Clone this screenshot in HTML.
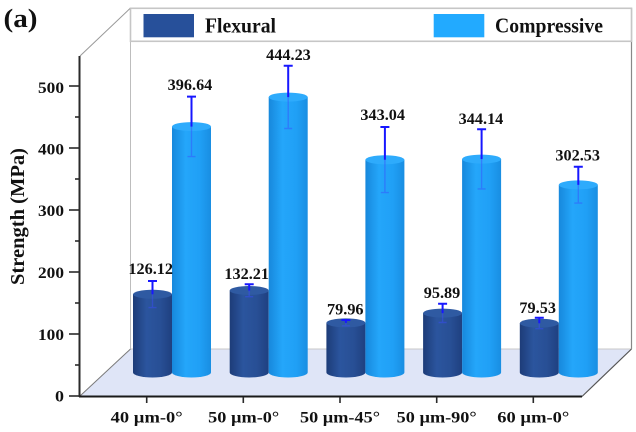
<!DOCTYPE html>
<html><head><meta charset="utf-8"><style>
html,body{margin:0;padding:0;background:#fff;}
svg{display:block;}
text{font-family:"Liberation Serif","Times New Roman",serif;font-weight:bold;fill:#111;}
</style></head><body>
<svg width="636" height="432" viewBox="0 0 636 432" xmlns="http://www.w3.org/2000/svg" font-family="'Liberation Serif', serif" font-weight="bold">
<defs>
<linearGradient id="gf" x1="0" x2="1" y1="0" y2="0">
<stop offset="0" stop-color="#1d3c78"/><stop offset="0.35" stop-color="#2b559e"/><stop offset="0.7" stop-color="#284f95"/><stop offset="1" stop-color="#1f4080"/>
</linearGradient>
<linearGradient id="gc" x1="0" x2="1" y1="0" y2="0">
<stop offset="0" stop-color="#1788dc"/><stop offset="0.35" stop-color="#24a6fa"/><stop offset="0.7" stop-color="#20a0f6"/><stop offset="1" stop-color="#198ee2"/>
</linearGradient>
</defs>
<!-- back wall -->
<rect x="130.5" y="8" width="501" height="341" fill="#fff"/>
<line x1="130.5" y1="8" x2="130.5" y2="349" stroke="#bdbdbd" stroke-width="1"/>
<line x1="631.5" y1="8" x2="631.5" y2="349" stroke="#888" stroke-width="1.2"/>
<!-- legend box -->
<rect x="130.5" y="8.3" width="501" height="33" fill="#fff" stroke="#c6c6c6" stroke-width="1.6"/>
<rect x="143.5" y="14" width="50.5" height="23.3" fill="#27509a"/>
<text x="205" y="32.3" font-size="21" textLength="71" lengthAdjust="spacingAndGlyphs">Flexural</text>
<rect x="433.7" y="14" width="50.6" height="23.3" fill="#22aaff"/>
<text x="495" y="32.3" font-size="21" textLength="108" lengthAdjust="spacingAndGlyphs">Compressive</text>
<!-- top-left diagonal -->
<line x1="80" y1="56" x2="130" y2="8.5" stroke="#999" stroke-width="1"/>
<!-- floor -->
<polygon points="80,396 130.5,349 631.5,349 582,396" fill="#dfe5f7"/>
<line x1="130.5" y1="349" x2="631.5" y2="349" stroke="#c8c8c8" stroke-width="1"/>
<line x1="80" y1="396" x2="130.5" y2="349" stroke="#7a7a7a" stroke-width="1"/>
<line x1="631.5" y1="349" x2="582" y2="396.5" stroke="#555" stroke-width="1.2"/>
<!-- axis -->
<line x1="79.5" y1="56" x2="79.5" y2="397" stroke="#2a2a2a" stroke-width="2"/>
<line x1="79" y1="396.5" x2="582" y2="396.5" stroke="#1a1a1a" stroke-width="2"/>
<g stroke="#2a2a2a" stroke-width="1.6">
<line x1="69" y1="396" x2="80" y2="396"/>
<line x1="69" y1="334" x2="80" y2="334"/>
<line x1="69" y1="272" x2="80" y2="272"/>
<line x1="69" y1="210" x2="80" y2="210"/>
<line x1="69" y1="148" x2="80" y2="148"/>
<line x1="69" y1="86" x2="80" y2="86"/>
<line x1="75" y1="365" x2="80" y2="365"/>
<line x1="75" y1="303" x2="80" y2="303"/>
<line x1="75" y1="241" x2="80" y2="241"/>
<line x1="75" y1="179" x2="80" y2="179"/>
<line x1="75" y1="117" x2="80" y2="117"/>
<line x1="146.7" y1="397" x2="146.7" y2="403" />
<line x1="243.3" y1="397" x2="243.3" y2="403" />
<line x1="340" y1="397" x2="340" y2="403" />
<line x1="436.7" y1="397" x2="436.7" y2="403" />
<line x1="533.3" y1="397" x2="533.3" y2="403" />
</g>
<g font-size="15.5" text-anchor="end">
<text x="64" y="401.5" textLength="9" lengthAdjust="spacingAndGlyphs">0</text>
<text x="64" y="340" textLength="26" lengthAdjust="spacingAndGlyphs">100</text>
<text x="64" y="278" textLength="26" lengthAdjust="spacingAndGlyphs">200</text>
<text x="64" y="216" textLength="26" lengthAdjust="spacingAndGlyphs">300</text>
<text x="64" y="154.5" textLength="26" lengthAdjust="spacingAndGlyphs">400</text>
<text x="64" y="93" textLength="26" lengthAdjust="spacingAndGlyphs">500</text>
</g>
<g font-size="15.5" text-anchor="middle">
<text x="146.7" y="422.7" textLength="72" lengthAdjust="spacingAndGlyphs">40 µm-0°</text>
<text x="243.7" y="422.7" textLength="71" lengthAdjust="spacingAndGlyphs">50 µm-0°</text>
<text x="340" y="422.7" textLength="80" lengthAdjust="spacingAndGlyphs">50 µm-45°</text>
<text x="436.7" y="422.7" textLength="80" lengthAdjust="spacingAndGlyphs">50 µm-90°</text>
<text x="533.3" y="422.7" textLength="72" lengthAdjust="spacingAndGlyphs">60 µm-0°</text>
</g>
<text transform="translate(24,216.5) rotate(-90)" font-size="20" text-anchor="middle" textLength="137" lengthAdjust="spacingAndGlyphs">Strength (MPa)</text>
<text x="3.5" y="27" font-size="26" textLength="34" lengthAdjust="spacingAndGlyphs">(a)</text>

<g id="bars">
<path d="M133,294.3 L133,372.5 A19.5,5 0 0 0 172,372.5 L172,294.3 Z" fill="url(#gf)"/>
<ellipse cx="152.5" cy="294.3" rx="19.5" ry="4.5" fill="#2f5aa2"/>
<path d="M172,126.6 L172,372.5 A19.5,5 0 0 0 211,372.5 L211,126.6 Z" fill="url(#gc)"/>
<ellipse cx="191.5" cy="126.6" rx="19.5" ry="4.5" fill="#2eabfc"/>
<path d="M229.7,290.5 L229.7,372.5 A19.5,5 0 0 0 268.7,372.5 L268.7,290.5 Z" fill="url(#gf)"/>
<ellipse cx="249.2" cy="290.5" rx="19.5" ry="4.5" fill="#2f5aa2"/>
<path d="M268.7,97.1 L268.7,372.5 A19.5,5 0 0 0 307.7,372.5 L307.7,97.1 Z" fill="url(#gc)"/>
<ellipse cx="288.2" cy="97.1" rx="19.5" ry="4.5" fill="#2eabfc"/>
<path d="M326.4,322.9 L326.4,372.5 A19.5,5 0 0 0 365.4,372.5 L365.4,322.9 Z" fill="url(#gf)"/>
<ellipse cx="345.9" cy="322.9" rx="19.5" ry="4.5" fill="#2f5aa2"/>
<path d="M365.4,159.8 L365.4,372.5 A19.5,5 0 0 0 404.4,372.5 L404.4,159.8 Z" fill="url(#gc)"/>
<ellipse cx="384.9" cy="159.8" rx="19.5" ry="4.5" fill="#2eabfc"/>
<path d="M423.1,313.1 L423.1,372.5 A19.5,5 0 0 0 462.1,372.5 L462.1,313.1 Z" fill="url(#gf)"/>
<ellipse cx="442.6" cy="313.1" rx="19.5" ry="4.5" fill="#2f5aa2"/>
<path d="M462.1,159.1 L462.1,372.5 A19.5,5 0 0 0 501.1,372.5 L501.1,159.1 Z" fill="url(#gc)"/>
<ellipse cx="481.6" cy="159.1" rx="19.5" ry="4.5" fill="#2eabfc"/>
<path d="M519.8,323.2 L519.8,372.5 A19.5,5 0 0 0 558.8,372.5 L558.8,323.2 Z" fill="url(#gf)"/>
<ellipse cx="539.3" cy="323.2" rx="19.5" ry="4.5" fill="#2f5aa2"/>
<path d="M558.8,184.9 L558.8,372.5 A19.5,5 0 0 0 597.8,372.5 L597.8,184.9 Z" fill="url(#gc)"/>
<ellipse cx="578.3" cy="184.9" rx="19.5" ry="4.5" fill="#2eabfc"/>
</g>

<g stroke="#3a4cff" stroke-width="1.4" opacity="0.45">
<path d="M152.5,294.3 V307.6 M148.5,307.6 H156.5"/>
<path d="M191.5,126.6 V156.6 M187.5,156.6 H195.5"/>
<path d="M249.2,290.5 V296.7 M245.2,296.7 H253.2"/>
<path d="M288.2,97.1 V128.5 M284.2,128.5 H292.2"/>
<path d="M345.9,322.9 V325.8 M341.9,325.8 H349.9"/>
<path d="M384.9,159.8 V192.6 M380.9,192.6 H388.9"/>
<path d="M442.6,313.1 V322.5 M438.6,322.5 H446.6"/>
<path d="M481.6,159.1 V188.9 M477.6,188.9 H485.6"/>
<path d="M539.3,323.2 V328.7 M535.3,328.7 H543.3"/>
<path d="M578.3,184.9 V203.1 M574.3,203.1 H582.3"/>
</g>
<g stroke="#1717ff" stroke-width="2">
<path d="M152.5,294.3 V281 M148,281 H157"/>
<path d="M191.5,126.6 V96.6 M187,96.6 H196"/>
<path d="M249.2,290.5 V284.3 M244.7,284.3 H253.7"/>
<path d="M288.2,97.1 V65.7 M283.7,65.7 H292.7"/>
<path d="M345.9,322.9 V320 M341.4,320 H350.4"/>
<path d="M384.9,159.8 V127 M380.4,127 H389.4"/>
<path d="M442.6,313.1 V303.7 M438.1,303.7 H447.1"/>
<path d="M481.6,159.1 V129.3 M477.1,129.3 H486.1"/>
<path d="M539.3,323.2 V317.7 M534.8,317.7 H543.8"/>
<path d="M578.3,184.9 V166.7 M573.8,166.7 H582.8"/>
</g>

<g font-size="15.5" text-anchor="middle">
<text x="190" y="90" textLength="44.6" lengthAdjust="spacingAndGlyphs">396.64</text>
<text x="288.5" y="60" textLength="44.6" lengthAdjust="spacingAndGlyphs">444.23</text>
<text x="382.7" y="120" textLength="44.6" lengthAdjust="spacingAndGlyphs">343.04</text>
<text x="481" y="124" textLength="44.6" lengthAdjust="spacingAndGlyphs">344.14</text>
<text x="577.7" y="160.7" textLength="44.6" lengthAdjust="spacingAndGlyphs">302.53</text>
<text x="150.7" y="274" textLength="44.6" lengthAdjust="spacingAndGlyphs">126.12</text>
<text x="246.7" y="279" textLength="44.6" lengthAdjust="spacingAndGlyphs">132.21</text>
<text x="345.3" y="314.5" textLength="36.5" lengthAdjust="spacingAndGlyphs">79.96</text>
<text x="442" y="298" textLength="36.5" lengthAdjust="spacingAndGlyphs">95.89</text>
<text x="537.7" y="313" textLength="36.5" lengthAdjust="spacingAndGlyphs">79.53</text>
</g>
</svg>
</body></html>
